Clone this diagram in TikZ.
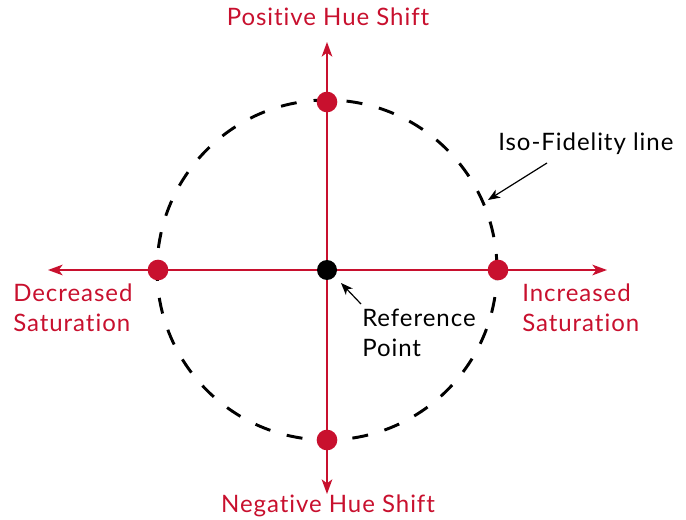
\documentclass[tikz,border=0pt]{standalone}
\usepackage{fontspec}
\setmainfont{Lato}[Ligatures=NoCommon,LetterSpace=4]
\usetikzlibrary{arrows.meta}
\definecolor{hue}{HTML}{C8102E}
\begin{document}
\begin{tikzpicture}[x=0.75pt,y=-0.75pt,
  axis/.style={draw=hue,line width=1.1pt,-{Stealth[length=11pt,width=8pt,inset=3pt]}},
  reddot/.style={circle,fill=hue,inner sep=0pt,minimum size=15.5pt},
  blackdot/.style={circle,fill=black,inner sep=0pt,minimum size=15pt},
  redlbl/.style={text=hue,font=\fontsize{18}{22.5}\selectfont,inner sep=0pt},
  blklbl/.style={text=black,font=\fontsize{18}{22.5}\selectfont,inner sep=0pt},
  pointer/.style={draw=black,line width=0.9pt,-{Stealth[length=9pt,width=7pt,inset=2.5pt]}}]
\useasboundingbox (0,0) rectangle (686,520);
\coordinate (c) at (327,270);
\coordinate (L) at (48,270);
\coordinate (R) at (607,270);
\coordinate (T) at (327,42);
\coordinate (B) at (327,494);
\draw[black,line width=2.2pt,dash pattern=on 12pt off 12.8pt] (c) circle[radius=170*0.75pt];
\draw[axis] (c) -- (L);
\draw[axis] (c) -- (R);
\draw[axis] (c) -- (T);
\draw[axis] (c) -- (B);
\node[reddot] (dt) at (327,102) {};
\node[reddot] (db) at (327,440) {};
\node[reddot] (dl) at (158,270) {};
\node[reddot] (dr) at (498,270) {};
\node[blackdot] (ref) at (c) {};
\node[redlbl,anchor=base] (pos) at (328,26) {Positive Hue Shift};
\node[redlbl,anchor=base] (neg) at (328,512) {Negative Hue Shift};
\node[redlbl,align=left,anchor=north west] (dec) at (13,284) {Decreased\\Saturation};
\node[redlbl,align=left,anchor=north west] (inc) at (522,284) {Increased\\Saturation};
\node[blklbl,align=left,anchor=north west] (rp) at (362,309) {Reference\\Point};
\node[blklbl,anchor=base west] (iso) at (498,151) {Iso-Fidelity line};
\coordinate (isotip) at (488,200);
\coordinate (isotail) at (547,163);
\coordinate (reftip) at (341,283);
\coordinate (reftail) at (361,304);
\draw[pointer] (isotail) -- (isotip);
\draw[pointer] (reftail) -- (reftip);
\end{tikzpicture}
\end{document}
